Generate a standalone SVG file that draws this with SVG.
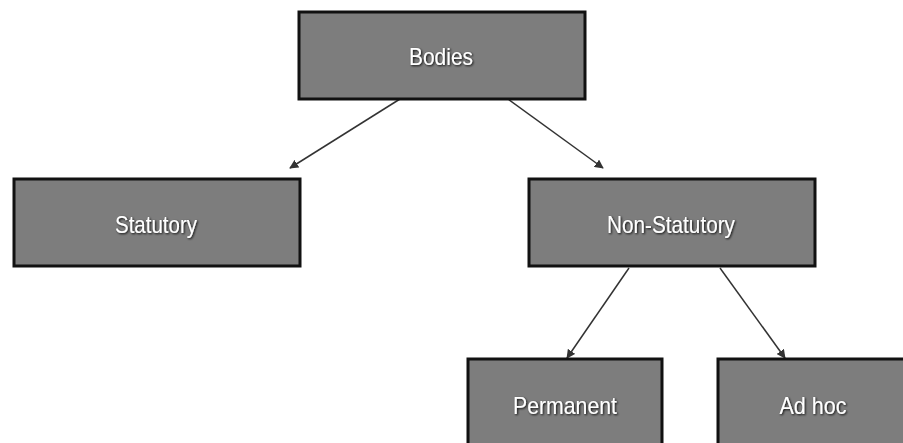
<svg xmlns="http://www.w3.org/2000/svg" width="903" height="443" viewBox="0 0 903 443">
<defs>
<filter id="ts" x="-20%" y="-40%" width="140%" height="180%">
<feDropShadow dx="1" dy="1" stdDeviation="1" flood-color="#000" flood-opacity="0.9"/>
</filter>
<marker id="ah" viewBox="0 0 10 10" refX="9" refY="5" markerWidth="9" markerHeight="9" markerUnits="userSpaceOnUse" orient="auto">
<path d="M0,0 L10,5 L0,10 z" fill="#333"/>
</marker>
</defs>
<style>
.box{fill:#7d7d7d;stroke:#111;stroke-width:3}
.lbl{fill:#fff;font-family:"Liberation Sans",Arial,sans-serif;font-size:24px;text-anchor:middle;filter:url(#ts)}
.con{stroke:#333;stroke-width:1.5;fill:none;marker-end:url(#ah)}
</style>
<rect width="903" height="443" fill="#fff"/>
<g id="connectors">
<line class="con" x1="400" y1="99" x2="290" y2="168"/>
<line class="con" x1="508" y1="99" x2="603" y2="168"/>
<line class="con" x1="629" y1="268" x2="567" y2="358"/>
<line class="con" x1="720" y1="268" x2="785" y2="358"/>
</g>
<g id="bodies">
<rect class="box" x="299" y="12" width="286" height="87"/>
<text class="lbl" x="441" y="65" textLength="64" lengthAdjust="spacingAndGlyphs">Bodies</text>
</g>
<g id="statutory">
<rect class="box" x="14" y="179" width="286" height="87"/>
<text class="lbl" x="156" y="233" textLength="82" lengthAdjust="spacingAndGlyphs">Statutory</text>
</g>
<g id="non-statutory">
<rect class="box" x="529" y="179" width="286" height="87"/>
<text class="lbl" x="671" y="233" textLength="128" lengthAdjust="spacingAndGlyphs">Non-Statutory</text>
</g>
<g id="permanent">
<rect class="box" x="468" y="359" width="194" height="100"/>
<text class="lbl" x="565" y="414" textLength="104" lengthAdjust="spacingAndGlyphs">Permanent</text>
</g>
<g id="adhoc">
<rect class="box" x="718" y="359" width="194" height="100"/>
<text class="lbl" x="813" y="414" textLength="67" lengthAdjust="spacingAndGlyphs">Ad hoc</text>
</g>
</svg>
